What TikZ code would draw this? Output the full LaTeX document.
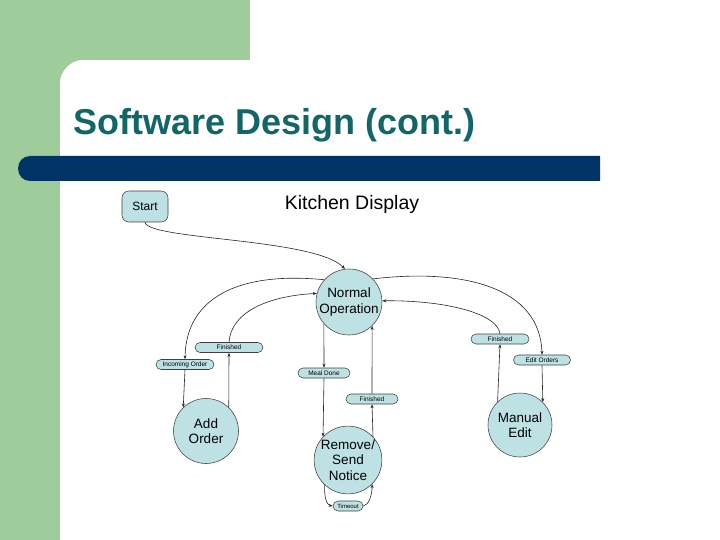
\documentclass[tikz,border=0pt]{standalone}
\usepackage{fontspec}
\setmainfont{Liberation Sans}
\usetikzlibrary{shapes.misc,arrows.meta}
\definecolor{sgreen}{RGB}{158,205,155}
\definecolor{sblue}{RGB}{0,51,102}
\definecolor{steal}{RGB}{18,102,104}
\definecolor{nfill}{RGB}{190,225,228}
\begin{document}
\begin{tikzpicture}[x=1pt,y=-1pt,
  state/.style={circle,draw=black!75,fill=nfill,line width=0.55pt,inner sep=0pt,align=center,font=\fontsize{13.5}{15.5}\selectfont},
  pill/.style={rounded rectangle,draw=black!75,fill=nfill,line width=0.55pt,minimum height=10pt,inner sep=0pt,font=\fontsize{6.5}{7}\selectfont},
  conn/.style={line width=0.6pt,draw=black!85,-{Stealth[length=4pt,width=3pt]}}]
\useasboundingbox (0,0) rectangle (720,540);
% background
\fill[white] (0,0) rectangle (720,540);
\fill[sgreen] (0,0) rectangle (250,60);
\fill[sgreen] (0,0) rectangle (60,540);
\fill[sgreen] (60,60) -- (82,60) .. controls (69.9,60) and (60,72.1) .. (60,82) -- cycle;
% blue bar
\fill[sblue] (30,156) -- (600,156) -- (600,181) -- (30,181) .. controls (23,181) and (18,175.4) .. (18,168.5) .. controls (18,161.6) and (23,156) .. (30,156) -- cycle;
% title
\node[anchor=base west,inner sep=0pt,text=steal,font=\fontsize{36}{40}\selectfont\bfseries] (title) at (73,135) {Software Design (cont.)};
\node[anchor=base,inner sep=0pt,font=\fontsize{19.5}{21}\selectfont] (kd) at (352,210) {Kitchen Display};
% nodes
\node[draw=black!75,fill=nfill,line width=0.55pt,rounded corners=7pt,minimum width=46pt,minimum height=31pt,inner sep=0pt,font=\fontsize{12}{14}\selectfont] (start) at (145,206.5) {Start};
\node[state,minimum size=66pt] (normal) at (349,302) {Normal\\Operation};
\node[state,minimum size=65pt] (add) at (206,431) {Add\\Order};
\node[state,minimum size=66pt] (remove) at (348,460) {Remove/\\Send\\Notice};
\node[state,minimum size=64pt] (manual) at (520,425) {Manual\\Edit};
\node[pill,minimum width=68pt] (finL) at (229,347.5) {Finished};
\node[pill,minimum width=58pt] (incoming) at (185,364.5) {Incoming Order};
\node[pill,minimum width=52pt] (meal) at (324,373) {Meal Done};
\node[pill,minimum width=52pt] (finM) at (372,399) {Finished};
\node[pill,minimum width=58pt] (finR) at (500,339) {Finished};
\node[pill,minimum width=57pt] (edit) at (542,360) {Edit Orders};
\node[pill,minimum width=30pt,font=\fontsize{6}{6}\selectfont] (timeout) at (348,506) {Timeout};
% connectors
\draw[conn] (start.south) .. controls (148,240) and (315,238) .. (normal.97);
\draw[conn] (normal.138) .. controls (235,271) and (186,300) .. (incoming.north);
\draw[conn] (incoming.south) -- (add.134);
\draw[conn] (add.46) -- (finL.south);
\draw[conn] (finL.north) .. controls (231,312) and (268,296) .. (normal.165);
\draw[conn] (normal.221) -- (meal.north);
\draw[conn] (meal.south) -- (remove.137);
\draw[conn] (remove.43) -- (finM.south);
\draw[conn] (finM.north) -- (normal.314);
\draw[conn] (remove.227) .. controls (324,498) and (327,505) .. (timeout.west);
\draw[conn] (timeout.east) .. controls (369,505) and (372,495) .. (remove.315);
\draw[conn] (normal.44) .. controls (465,268) and (540,288) .. (edit.north);
\draw[conn] (edit.south) -- (manual.45);
\draw[conn] (manual.134) -- (finR.south);
\draw[conn] (finR.north) .. controls (497,312) and (440,300) .. (normal.2);
\end{tikzpicture}
\end{document}
